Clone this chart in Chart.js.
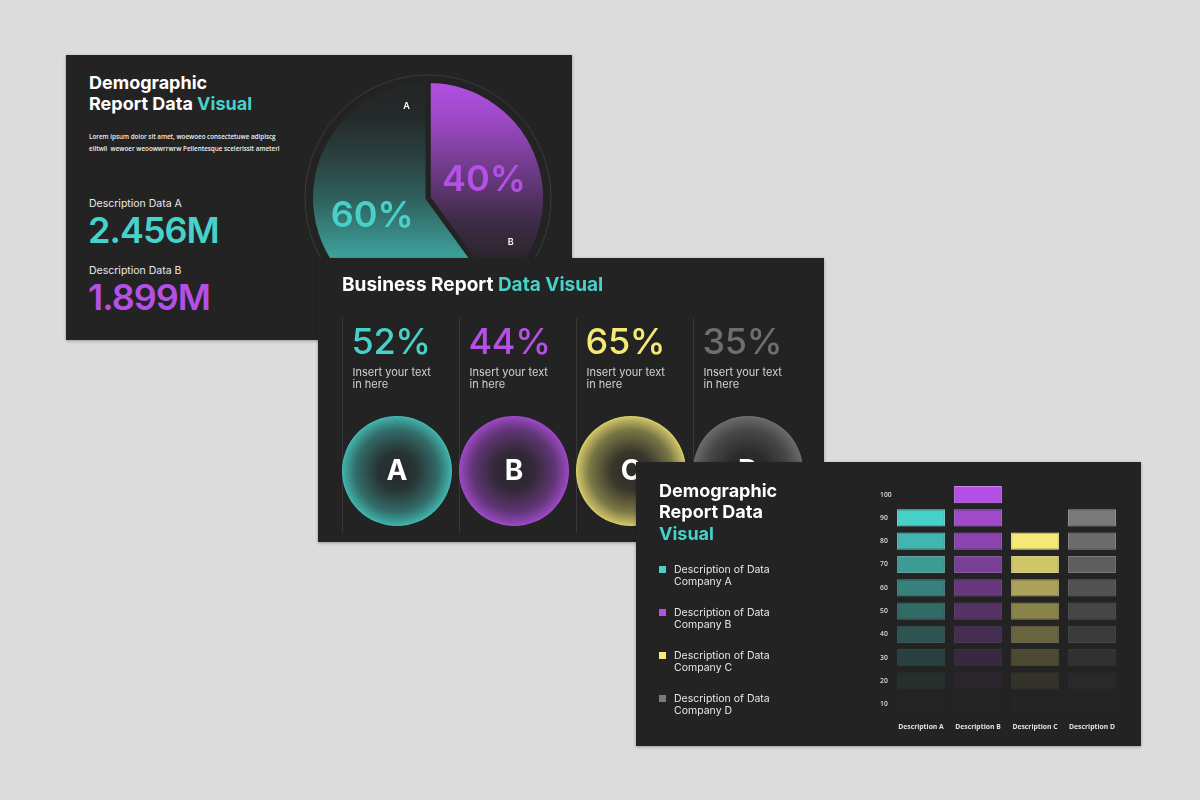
<!DOCTYPE html>
<html>
<head>
<meta charset="utf-8">
<script src="https://cdn.jsdelivr.net/npm/chart.js@4.4.1/dist/chart.umd.min.js"></script>
<style>
html, body { margin: 0; padding: 0; }
body { width: 1200px; height: 800px; background: #dcdcdc; position: relative; overflow: hidden; font-family: Inter, "Noto Sans", sans-serif; }
.slide { position: absolute; background: #232323; overflow: hidden; box-shadow: 0 1px 3px rgba(0,0,0,.3); }
#s1 { left: 66px; top: 55px; width: 506px; height: 285px; }
#s2 { left: 318px; top: 258px; width: 506px; height: 284px; }
#s3 { left: 636px; top: 462px; width: 505px; height: 284px; }
.abs { position: absolute; }
.title { font-weight: 700; font-size: 18px; line-height: 21.8px; color: #fff; white-space: nowrap; }
.title1 { font-weight: 700; font-size: 19px; line-height: 20px; color: #fff; white-space: nowrap; }
.hl { color: #47d1c9; }
.lorem { font-family: "Open Sans", sans-serif; font-weight: 600; font-size: 6.3px; line-height: 12.3px; color: #f0f0f0; white-space: nowrap; }
.desc { font-size: 10.5px; line-height: 13px; color: #e8e8e8; white-space: nowrap; }
.big { font-size: 36px; line-height: 36px; font-weight: 600; letter-spacing: -1px; white-space: nowrap; }
.pct { font-size: 36px; line-height: 36px; font-weight: 500; letter-spacing: -0.3px; white-space: nowrap; }
.small { font-size: 11px; line-height: 12px; color: #d2d2d2; white-space: nowrap; }
.sep { width: 1px; background: #383838; }
.leg { font-size: 10.5px; line-height: 11.5px; color: #e6e6e6; white-space: nowrap; }
.sq { width: 7px; height: 7px; }
</style>
</head>
<body>

<div class="slide" id="s1">
  <div class="abs title" style="left:23px;top:16.5px">Demographic<br>Report Data <span class="hl">Visual</span></div>
  <div class="abs lorem" style="left:23px;top:75.5px">Lorem ipsum dolor sit amet, woewoeo consectetuwe adipiscg<br>elitwil&nbsp; wewoer weoowwrrwrw Pellentesque scelerissit ameteri</div>
  <canvas id="pie" class="abs" width="250" height="250" style="left:237px;top:18px"></canvas>
</div>

<div class="slide" id="s2">
  <div class="abs title1" style="left:24px;top:17px">Business Report <span class="hl">Data Visual</span></div>
</div>

<div class="slide" id="s3">
  <div class="abs title" style="left:23px;top:17.5px">Demographic<br>Report Data<br><span class="hl">Visual</span></div>
  <canvas id="bars" class="abs" width="250" height="270" style="left:244px;top:9px"></canvas>
</div>

<script>
// couleurs
const palette = ['#47d1c9', '#b550e6', '#f5ea76', '#7a7a7a'];
const bg = '#232323';

// données du camembert (slide 1)
const pieLabels = ['B', 'A'];
const pieValues = [40, 60];

// chiffres clés (slide 1)
const statLabels = ['Description Data A', 'Description Data B'];
const statValues = ['2.456M', '1.899M'];

// business report (slide 2)
const bizLetters = ['A', 'B', 'C', 'D'];
const bizPercents = [52, 44, 65, 35];

// barres en blocs (slide 3)
const barCategories = ['Description A', 'Description B', 'Description C', 'Description D'];
const barTops = [90, 100, 80, 90];
const yLevels = [10, 20, 30, 40, 50, 60, 70, 80, 90, 100];
const legendLabels = ['Company A', 'Company B', 'Company C', 'Company D'];

function hexToRgb(h) {
  const n = parseInt(h.slice(1), 16);
  return [n >> 16 & 255, n >> 8 & 255, n & 255];
}
function toHex(rgb) {
  return '#' + rgb.map(v => Math.round(v).toString(16).padStart(2, '0')).join('');
}
function mix(hex, t, base) {
  const a = hexToRgb(hex), b = hexToRgb(base || bg);
  return toHex(a.map((v, i) => b[i] + (v - b[i]) * t));
}

/* ---------- slide 1 : textes ---------- */
const s1 = document.getElementById('s1');
statLabels.forEach((lab, i) => {
  const d = document.createElement('div');
  d.className = 'abs desc';
  d.style.left = '23px';
  d.style.top = (141.5 + i * 67) + 'px';
  d.textContent = lab;
  s1.appendChild(d);
  const v = document.createElement('div');
  v.className = 'abs big';
  v.style.left = '22px';
  v.style.top = (157 + i * 67) + 'px';
  v.style.color = palette[i];
  v.textContent = statValues[i];
  s1.appendChild(v);
});

/* ---------- slide 1 : camembert ---------- */
const pieColors = [palette[1], palette[0]];
const pieStops = [
  [[0, 1], [0.18, 0.82], [0.39, 0.51], [0.6, 0.18], [0.74, 0.06], [1, 0.03]],
  [[0, 0.02], [0.15, 0.035], [0.32, 0.16], [0.5, 0.345], [0.74, 0.72], [1, 0.92]]
];
const pieTagOffsets = [0.45, 0.23];

function pieFill(ctx) {
  const a = ctx.chart.chartArea;
  const col = pieColors[ctx.dataIndex];
  if (!a) return col;
  const g = ctx.chart.ctx.createLinearGradient(0, a.top, 0, a.bottom);
  pieStops[ctx.dataIndex].forEach(s => g.addColorStop(s[0], mix(col, s[1])));
  return g;
}

const pieDeco = {
  id: 'pieDeco',
  beforeDatasetsDraw(chart) {
    const arc = chart.getDatasetMeta(0).data[0];
    const c = chart.ctx;
    c.save();
    c.strokeStyle = '#3b3b3b';
    c.lineWidth = 1;
    c.beginPath();
    c.arc(arc.x, arc.y, arc.outerRadius + 5.5, 0, Math.PI * 2);
    c.stroke();
    c.restore();
  },
  afterDatasetsDraw(chart) {
    const meta = chart.getDatasetMeta(0);
    const c = chart.ctx;
    c.save();
    c.textAlign = 'center';
    c.textBaseline = 'middle';
    meta.data.forEach((arc, i) => {
      const p = arc.tooltipPosition();
      c.font = '600 36px Inter';
      c.fillStyle = pieColors[i];
      c.fillText(pieValues[i] + '%', p.x, p.y);
      const ang = arc.endAngle - pieTagOffsets[i];
      const r = arc.outerRadius * 0.8;
      c.font = '600 9px Inter';
      c.fillStyle = '#ffffff';
      c.fillText(pieLabels[i], arc.x + Math.cos(ang) * r, arc.y + Math.sin(ang) * r);
    });
    c.restore();
  }
};

new Chart(document.getElementById('pie'), {
  type: 'pie',
  data: {
    labels: pieLabels,
    datasets: [{ data: pieValues, backgroundColor: pieFill, borderColor: bg, borderWidth: 5 }]
  },
  options: {
    responsive: false,
    animation: false,
    layout: { padding: 5 },
    plugins: { legend: { display: false }, tooltip: { enabled: false } }
  },
  plugins: [pieDeco]
});

/* ---------- slide 2 ---------- */
const s2 = document.getElementById('s2');

function circleFill(ctx, col) {
  const a = ctx.chart.chartArea;
  if (!a) return col;
  const cx = (a.left + a.right) / 2, cy = (a.top + a.bottom) / 2;
  const r = Math.min(a.width, a.height) / 2;
  const g = ctx.chart.ctx.createRadialGradient(cx, cy, 0, cx, cy, r);
  g.addColorStop(0, mix(col, 0.04));
  g.addColorStop(0.35, mix(col, 0.1));
  g.addColorStop(0.75, mix(col, 0.42));
  g.addColorStop(0.97, mix(col, 0.78));
  g.addColorStop(1, mix(col, 0.9));
  return g;
}

const letterPlugin = {
  id: 'letter',
  afterDatasetsDraw(chart) {
    const arc = chart.getDatasetMeta(0).data[0];
    const c = chart.ctx;
    c.save();
    c.font = '700 28px Inter';
    c.fillStyle = '#ffffff';
    c.textAlign = 'center';
    c.textBaseline = 'middle';
    c.fillText(chart.data.labels[0], arc.x, arc.y + 1);
    c.restore();
  }
};

bizLetters.forEach((letter, i) => {
  const x0 = 24 + i * 117;
  const sep = document.createElement('div');
  sep.className = 'abs sep';
  sep.style.left = x0 + 'px';
  sep.style.top = '60px';
  sep.style.height = '215px';
  s2.appendChild(sep);

  const p = document.createElement('div');
  p.className = 'abs pct';
  p.style.left = (x0 + 9.5) + 'px';
  p.style.top = '65px';
  p.style.color = i === 3 ? '#6e6e6e' : palette[i];
  p.textContent = bizPercents[i] + '%';
  s2.appendChild(p);

  const t = document.createElement('div');
  t.className = 'abs small';
  t.style.left = (x0 + 10.5) + 'px';
  t.style.top = '108px';
  t.innerHTML = 'Insert your text<br>in here';
  s2.appendChild(t);

  const cv = document.createElement('canvas');
  cv.className = 'abs';
  cv.width = 110;
  cv.height = 110;
  cv.style.left = x0 + 'px';
  cv.style.top = '158px';
  s2.appendChild(cv);

  const col = palette[i];
  new Chart(cv, {
    type: 'pie',
    data: {
      labels: [letter],
      datasets: [{ data: [100], backgroundColor: c => circleFill(c, col), borderWidth: 0 }]
    },
    options: {
      responsive: false,
      animation: false,
      plugins: { legend: { display: false }, tooltip: { enabled: false } }
    },
    plugins: [letterPlugin]
  });
});

/* ---------- slide 3 : légende ---------- */
const s3 = document.getElementById('s3');
legendLabels.forEach((lab, i) => {
  const sq = document.createElement('div');
  sq.className = 'abs sq';
  sq.style.left = '23px';
  sq.style.top = (104 + i * 43) + 'px';
  sq.style.background = palette[i];
  s3.appendChild(sq);
  const t = document.createElement('div');
  t.className = 'abs leg';
  t.style.left = '38px';
  t.style.top = (102.25 + i * 43) + 'px';
  t.innerHTML = 'Description of Data<br>' + lab;
  s3.appendChild(t);
});

/* ---------- slide 3 : barres en blocs ---------- */
const BLOCK_HALF = 3.7;

function blockStrength(level, top) {
  return Math.max(Math.pow(Math.max(level - 10, 0) / (top - 10), 1.3), 0.01);
}

const barDatasets = yLevels.map(level => ({
  label: 'niveau ' + level,
  data: barTops.map(top => level <= top ? [level - BLOCK_HALF, level + BLOCK_HALF] : null),
  backgroundColor: barTops.map((top, i) => mix(palette[i], blockStrength(level, top))),
  borderColor: barTops.map((top, i) => mix(mix(palette[i], 0.7, '#ffffff'), blockStrength(level, top))),
  borderWidth: 1,
  borderSkipped: false,
  barPercentage: 0.84,
  categoryPercentage: 1
}));

new Chart(document.getElementById('bars'), {
  type: 'bar',
  data: { labels: barCategories, datasets: barDatasets },
  options: {
    responsive: false,
    animation: false,
    layout: { padding: { top: 12, right: 9.5, bottom: 3, left: 0 } },
    plugins: { legend: { display: false }, tooltip: { enabled: false } },
    scales: {
      x: {
        stacked: true,
        grid: { display: false, drawTicks: false },
        border: { display: false },
        ticks: { padding: 7, color: '#e2e2e2', font: { family: 'Open Sans', size: 6.8, weight: '700' } }
      },
      y: {
        min: 5,
        max: 105,
        afterBuildTicks: s => { s.ticks = yLevels.map(v => ({ value: v })); },
        afterFit: s => { s.width = 12.5; },
        grid: { display: false, drawTicks: false },
        border: { display: false },
        ticks: { crossAlign: 'far', padding: 0, color: '#dadada', font: { family: 'Open Sans', size: 6.8, weight: '600' } }
      }
    }
  }
});
</script>
</body>
</html>
